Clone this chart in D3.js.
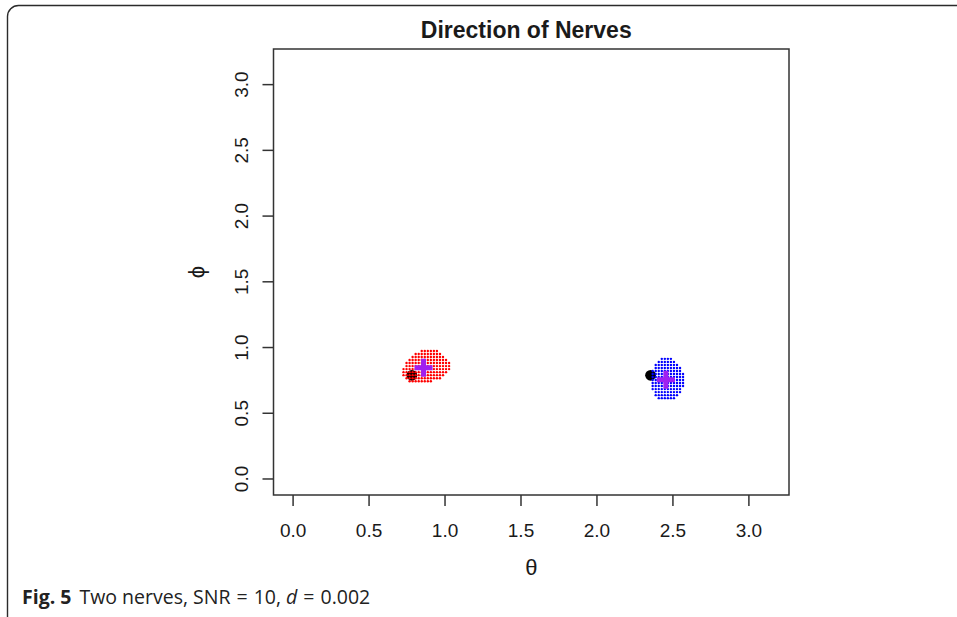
<!DOCTYPE html>
<html>
<head>
<meta charset="utf-8">
<script src="https://cdn.jsdelivr.net/npm/d3@7"></script>
<style>
  body { margin: 0; background: #fff; }
  svg { display: block; }
</style>
</head>
<body>
<svg id="chart" width="957" height="617"></svg>
<script>
const xTicks = [0.0, 0.5, 1.0, 1.5, 2.0, 2.5, 3.0];
const yTicks = [0.0, 0.5, 1.0, 1.5, 2.0, 2.5, 3.0];

// estimated directions for nerve 1 (red grid): [phi, [theta...]]
const redRows = [
  [0.970, [0.85, 0.87, 0.89, 0.91, 0.93, 0.95]],
  [0.947, [0.81, 0.83, 0.85, 0.87, 0.89, 0.91, 0.93, 0.95, 0.97]],
  [0.924, [0.79, 0.81, 0.83, 0.85, 0.87, 0.89, 0.91, 0.93, 0.95, 0.97, 0.99]],
  [0.901, [0.77, 0.79, 0.81, 0.83, 0.85, 0.87, 0.89, 0.91, 0.93, 0.95, 0.97, 0.99, 1.01]],
  [0.878, [0.75, 0.77, 0.79, 0.81, 0.83, 0.85, 0.87, 0.89, 0.91, 0.93, 0.95, 0.97, 0.99, 1.01, 1.03]],
  [0.855, [0.75, 0.77, 0.79, 0.81, 0.83, 0.85, 0.87, 0.89, 0.91, 0.93, 0.95, 0.97, 0.99, 1.01, 1.03]],
  [0.832, [0.73, 0.75, 0.77, 0.79, 0.81, 0.83, 0.85, 0.87, 0.89, 0.91, 0.93, 0.95, 0.97, 0.99, 1.01, 1.03]],
  [0.809, [0.73, 0.75, 0.77, 0.79, 0.81, 0.83, 0.85, 0.87, 0.89, 0.91, 0.93, 0.95, 0.97, 0.99, 1.01]],
  [0.786, [0.73, 0.75, 0.77, 0.79, 0.81, 0.83, 0.85, 0.87, 0.89, 0.91, 0.93, 0.95, 0.97, 0.99]],
  [0.763, [0.75, 0.77, 0.79, 0.81, 0.83, 0.85, 0.87, 0.89, 0.91, 0.93, 0.95, 0.97]],
  [0.740, [0.77, 0.79, 0.81, 0.83, 0.85, 0.87, 0.89, 0.91]]
];

// estimated directions for nerve 2 (blue grid)
const blueRows = [
  [0.910, [2.43, 2.45, 2.47, 2.49]],
  [0.887, [2.41, 2.43, 2.45, 2.47, 2.49, 2.51]],
  [0.864, [2.39, 2.41, 2.43, 2.45, 2.47, 2.49, 2.51, 2.53]],
  [0.841, [2.39, 2.41, 2.43, 2.45, 2.47, 2.49, 2.51, 2.53, 2.55]],
  [0.818, [2.37, 2.39, 2.41, 2.43, 2.45, 2.47, 2.49, 2.51, 2.53, 2.55]],
  [0.795, [2.37, 2.39, 2.41, 2.43, 2.45, 2.47, 2.49, 2.51, 2.53, 2.55, 2.57]],
  [0.772, [2.37, 2.39, 2.41, 2.43, 2.45, 2.47, 2.49, 2.51, 2.53, 2.55, 2.57]],
  [0.749, [2.37, 2.39, 2.41, 2.43, 2.45, 2.47, 2.49, 2.51, 2.53, 2.55, 2.57]],
  [0.726, [2.37, 2.39, 2.41, 2.43, 2.45, 2.47, 2.49, 2.51, 2.53, 2.55, 2.57]],
  [0.703, [2.37, 2.39, 2.41, 2.43, 2.45, 2.47, 2.49, 2.51, 2.53, 2.55, 2.57]],
  [0.680, [2.37, 2.39, 2.41, 2.43, 2.45, 2.47, 2.49, 2.51, 2.53, 2.55]],
  [0.657, [2.39, 2.41, 2.43, 2.45, 2.47, 2.49, 2.51, 2.53, 2.55]],
  [0.634, [2.39, 2.41, 2.43, 2.45, 2.47, 2.49, 2.51, 2.53]],
  [0.611, [2.41, 2.43, 2.45, 2.47, 2.49, 2.51]]
];

// true directions (black) and mean estimates (purple)
const trueDirs = [{ theta: 0.785, phi: 0.785 }, { theta: 2.356, phi: 0.785 }];
const meanDirs = [{ theta: 0.862, phi: 0.843 }, { theta: 2.457, phi: 0.752 }];

const xDomain = [-Math.PI * 0.04, Math.PI * 1.04];
const yDomain = [-Math.PI * 0.04, Math.PI * 1.04];

const box = { left: 273.5, right: 789, top: 49, bottom: 495 };
const axisColor = "#333";
const textColor = "#1a1a1a";

const svg = d3.select("#chart");

// outer figure frame
svg.append("rect")
  .attr("x", 7.5).attr("y", 5.5)
  .attr("width", 1100).attr("height", 640)
  .attr("rx", 11)
  .attr("fill", "none")
  .attr("stroke", "#2b2b2b")
  .attr("stroke-width", 1.4);

const xScale = d3.scaleLinear().domain(xDomain).range([box.left, box.right]);
const yScale = d3.scaleLinear().domain(yDomain).range([box.bottom, box.top]);

const toPoints = rows => rows.flatMap(([phi, thetas]) => thetas.map(theta => ({ theta, phi })));

// axes
const xAxis = svg.append("g")
  .attr("transform", `translate(0, ${ box.bottom })`)
  .call(d3.axisBottom(xScale).tickValues(xTicks).tickSize(11).tickFormat(d3.format(".1f")));
xAxis.select(".domain").remove();
xAxis.selectAll("line").attr("stroke", axisColor).attr("stroke-width", 1.5);
xAxis.selectAll("text")
  .attr("y", 42).attr("dy", null)
  .attr("fill", textColor)
  .style("font", "19px 'Liberation Sans', Arial, sans-serif");

const yAxis = svg.append("g")
  .attr("transform", `translate(${ box.left }, 0)`)
  .call(d3.axisLeft(yScale).tickValues(yTicks).tickSize(11).tickFormat(d3.format(".1f")));
yAxis.select(".domain").remove();
yAxis.selectAll("line").attr("stroke", axisColor).attr("stroke-width", 1.5);
yAxis.selectAll("text")
  .attr("x", null).attr("dy", null)
  .attr("text-anchor", "middle")
  .attr("transform", "translate(-26, 0) rotate(-90)")
  .attr("fill", textColor)
  .style("font", "19px 'Liberation Sans', Arial, sans-serif");

// plot box
svg.append("rect")
  .attr("x", box.left).attr("y", box.top)
  .attr("width", box.right - box.left)
  .attr("height", box.bottom - box.top)
  .attr("fill", "none")
  .attr("stroke", axisColor)
  .attr("stroke-width", 1.5);

// marks
const plot = svg.append("g");

plot.selectAll("circle.true")
  .data(trueDirs)
  .join("circle")
    .attr("class", "true")
    .attr("cx", d => xScale(d.theta))
    .attr("cy", d => yScale(d.phi))
    .attr("r", 5.4)
    .attr("fill", "#000");

plot.selectAll("circle.red")
  .data(toPoints(redRows))
  .join("circle")
    .attr("class", "red")
    .attr("cx", d => xScale(d.theta))
    .attr("cy", d => yScale(d.phi))
    .attr("r", 1.2)
    .attr("fill", "#ff0000");

plot.selectAll("circle.blue")
  .data(toPoints(blueRows))
  .join("circle")
    .attr("class", "blue")
    .attr("cx", d => xScale(d.theta))
    .attr("cy", d => yScale(d.phi))
    .attr("r", 1.2)
    .attr("fill", "#0000ff");

const arm = 9;
plot.selectAll("path.mean")
  .data(meanDirs)
  .join("path")
    .attr("class", "mean")
    .attr("d", d => {
      const cx = xScale(d.theta), cy = yScale(d.phi);
      return `M${ cx - arm },${ cy }H${ cx + arm }M${ cx },${ cy - arm }V${ cy + arm }`;
    })
    .attr("stroke", "#a020f0")
    .attr("stroke-width", 5)
    .attr("fill", "none");

// titles
const midX = (box.left + box.right) / 2;
svg.append("text")
  .attr("x", midX - 5).attr("y", 38)
  .attr("text-anchor", "middle")
  .attr("fill", textColor)
  .style("font", "bold 23px 'Liberation Sans', Arial, sans-serif")
  .text("Direction of Nerves");

svg.append("text")
  .attr("x", midX).attr("y", 575)
  .attr("text-anchor", "middle")
  .attr("fill", textColor)
  .style("font", "22px 'Liberation Sans', Arial, sans-serif")
  .text("θ");

svg.append("text")
  .attr("transform", `translate(204, ${ (box.top + box.bottom) / 2 }) rotate(-90)`)
  .attr("text-anchor", "middle")
  .attr("fill", textColor)
  .style("font", "22px 'Liberation Sans', Arial, sans-serif")
  .text("ϕ");

// figure caption
const caption = svg.append("text")
  .attr("x", 22).attr("y", 604)
  .attr("fill", "#222")
  .style("font", "19.5px 'Open Sans', sans-serif");
caption.append("tspan").attr("font-weight", "bold").text("Fig. 5");
caption.append("tspan").attr("dx", 8).text("Two nerves, SNR");
caption.append("tspan").attr("dx", 6).text("=");
caption.append("tspan").attr("dx", 6).text("10, ");
caption.append("tspan").attr("font-style", "italic").text("d");
caption.append("tspan").attr("dx", 6).text("=");
caption.append("tspan").attr("dx", 6).text("0.002");
</script>
</body>
</html>
